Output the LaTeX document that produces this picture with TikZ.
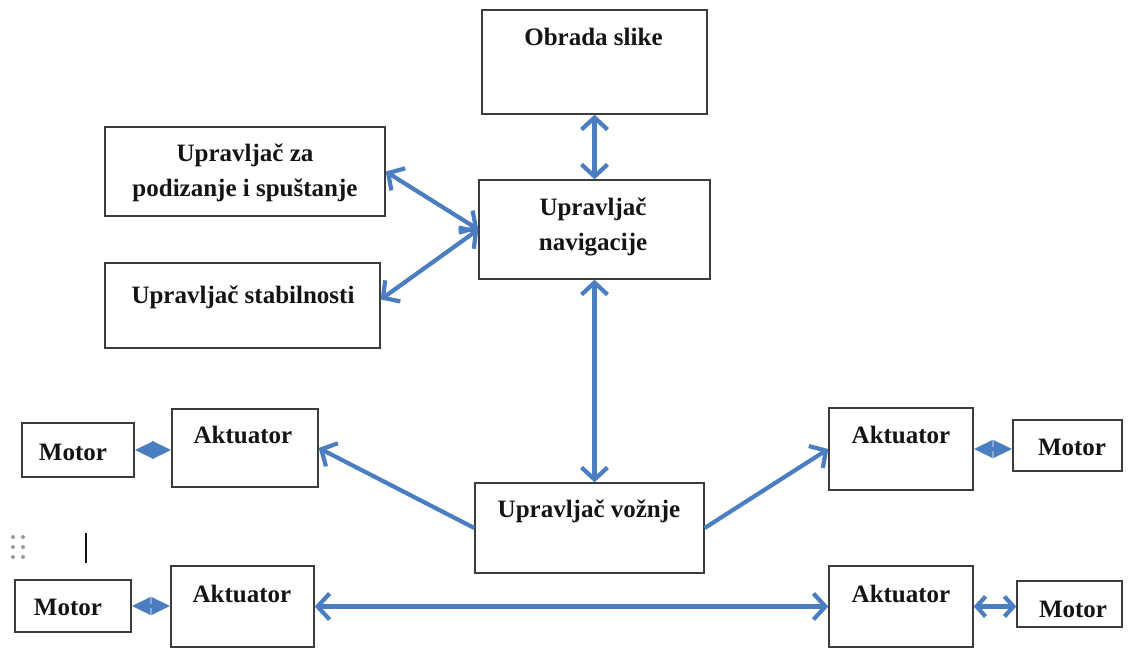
\documentclass[tikz,border=0pt]{standalone}
\usepackage{fontspec}
\setmainfont{Liberation Serif}
\newfontfamily\lblfont{Liberation Serif Bold}
\usetikzlibrary{arrows.meta}
\definecolor{arrblue}{RGB}{74,126,193}
\definecolor{boxgray}{RGB}{60,60,60}
\definecolor{txt}{RGB}{20,20,20}
\begin{document}
\begin{tikzpicture}[x=1pt,y=-1pt,
  box/.style={draw=boxgray, line width=1.4pt, fill=white, inner sep=0pt},
  lbl/.style={font=\lblfont\fontsize{25}{35}\selectfont, text=txt, align=center, inner sep=0pt, anchor=base},
  conn/.style={draw=arrblue, line width=4.2pt},
  barb/.tip={Straight Barb[length=12pt,width=26pt,line width=4.2pt]},
  dia/.tip={Triangle[length=19pt,width=17pt]},
  open2/.tip={Straight Barb[length=9pt,width=20pt,line width=4.2pt]}
]
\useasboundingbox (0,0) rectangle (1132,648);
% boxes
\node[box, minimum width=225pt, minimum height=104pt] (obr) at (594.5,62) {};
\node[box, minimum width=231pt, minimum height=99pt] (nav) at (594.5,229.5) {};
\node[box, minimum width=280pt, minimum height=89pt] (pod) at (245,171.5) {};
\node[box, minimum width=275pt, minimum height=85pt] (stab) at (242.5,305.5) {};
\node[box, minimum width=229pt, minimum height=90pt] (voz) at (589.5,528) {};
\node[box, minimum width=112pt, minimum height=54pt] (mL1) at (78,450) {};
\node[box, minimum width=146pt, minimum height=78pt] (aL1) at (245,448) {};
\node[box, minimum width=116pt, minimum height=52pt] (mL2) at (73,606) {};
\node[box, minimum width=143pt, minimum height=81pt] (aL2) at (242.5,606.5) {};
\node[box, minimum width=144pt, minimum height=82pt] (aR1) at (901,449) {};
\node[box, minimum width=109pt, minimum height=51pt] (mR1) at (1067.5,445.5) {};
\node[box, minimum width=144pt, minimum height=81pt] (aR2) at (901,606.5) {};
\node[box, minimum width=105pt, minimum height=46pt] (mR2) at (1069.5,604) {};
% labels
\node[lbl] (tobr) at (593.5,45) {Obrada slike};
\node[lbl] (tnav) at (593,250) {Upravljač\\navigacije};
\node[lbl] (tpod) at (245,196) {Upravljač za\\podizanje i spuštanje};
\node[lbl] (tstab) at (243,303) {Upravljač stabilnosti};
\node[lbl] (tvoz) at (589,517) {Upravljač vožnje};
\node[lbl] (tmL1) at (73,460) {Motor};
\node[lbl] (taL1) at (243,443) {Aktuator};
\node[lbl] (tmL2) at (68,615) {Motor};
\node[lbl] (taL2) at (242,602) {Aktuator};
\node[lbl] (taR1) at (901,443) {Aktuator};
\node[lbl] (tmR1) at (1072,455) {Motor};
\node[lbl] (taR2) at (901,602) {Aktuator};
\node[lbl] (tmR2) at (1073,617) {Motor};
% connectors
\draw[conn, {barb}-{barb}] (obr.south) -- (nav.north);
\draw[conn, {barb}-{barb}] (pod.east) -- (nav.west);
\draw[conn, {barb}-{barb}] ([yshift=6pt]stab.east) -- (nav.west);
\draw[conn, {barb}-{barb}] (nav.south) -- (nav.south |- voz.north);
\draw[conn, -{barb}] (voz.west) -- (aL1.east);
\draw[conn, -{barb}] (voz.east) -- (aR1.west);
\draw[conn, {barb}-{barb}] (aL2.east) -- (aL2.east -| aR2.west);
\draw[conn, {dia}-{dia}] (mL1.east) -- (mL1.east -| aL1.west);
\draw[conn, {dia}-{dia}] (mL2.east) -- (mL2.east -| aL2.west);
\draw[conn, {dia}-{dia}] (aR1.east) -- (aR1.east -| mR1.west);
\draw[conn, {open2}-{open2}] (aR2.east) -- (aR2.east -| mR2.west);
% stray marks
\foreach \yy in {537,547,557}{
  \fill[gray!80] (13,\yy) circle (2pt);
  \fill[gray!80] (23,\yy) circle (2pt);
}
\draw[line width=2.4pt, txt] (86,533) -- (86,563);
\end{tikzpicture}
\end{document}
